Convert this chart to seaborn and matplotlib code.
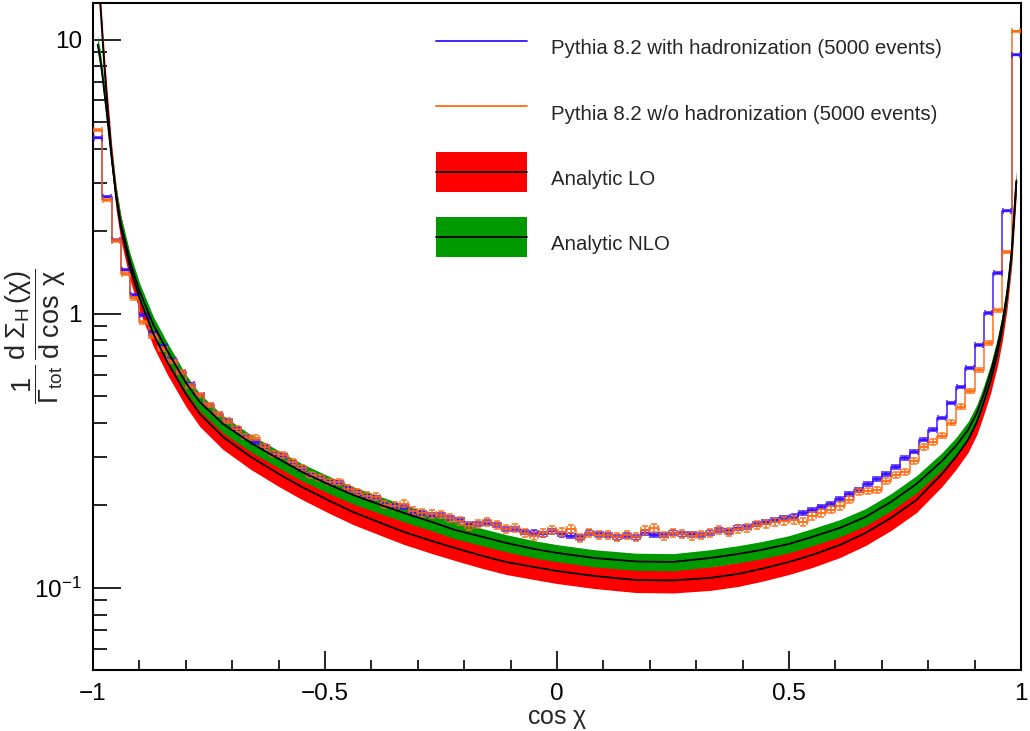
import numpy as np
import pandas as pd
import matplotlib
matplotlib.use("Agg")
import matplotlib.pyplot as plt
import seaborn as sns
from matplotlib.lines import Line2D
from matplotlib.patches import Patch, Rectangle
from matplotlib.legend_handler import HandlerTuple, HandlerPatch
from matplotlib.ticker import FixedLocator, FixedFormatter, MultipleLocator, FuncFormatter, NullFormatter

# ---------------- data ----------------
n_bins = 100
cos_min, cos_max = -1.0, 1.0

with_had = [4.39, 2.67, 1.86, 1.45, 1.17, 0.99, 0.85, 0.76, 0.68, 0.614,
            0.555, 0.506, 0.465, 0.431, 0.407, 0.380, 0.356, 0.341, 0.327, 0.308,
            0.303, 0.286, 0.272, 0.258, 0.252, 0.244, 0.242, 0.230, 0.222, 0.215,
            0.213, 0.201, 0.199, 0.198, 0.189, 0.188, 0.185, 0.185, 0.180, 0.177,
            0.171, 0.171, 0.173, 0.170, 0.164, 0.164, 0.160, 0.159, 0.157, 0.161,
            0.157, 0.155, 0.153, 0.159, 0.157, 0.156, 0.153, 0.155, 0.153, 0.159,
            0.156, 0.156, 0.159, 0.157, 0.157, 0.156, 0.159, 0.163, 0.161, 0.166,
            0.167, 0.171, 0.174, 0.177, 0.180, 0.182, 0.188, 0.193, 0.198, 0.203,
            0.211, 0.220, 0.228, 0.240, 0.250, 0.261, 0.276, 0.298, 0.314, 0.347,
            0.377, 0.417, 0.473, 0.541, 0.635, 0.770, 1.01, 1.41, 2.38, 8.82]

without_had = [4.69, 2.61, 1.85, 1.40, 1.14, 0.93, 0.83, 0.745, 0.67, 0.614,
               0.546, 0.506, 0.465, 0.431, 0.407, 0.380, 0.356, 0.353, 0.327, 0.308,
               0.306, 0.288, 0.274, 0.258, 0.252, 0.244, 0.244, 0.230, 0.224, 0.217,
               0.215, 0.201, 0.199, 0.203, 0.191, 0.188, 0.186, 0.185, 0.180, 0.176,
               0.168, 0.171, 0.174, 0.170, 0.164, 0.166, 0.159, 0.155, 0.159, 0.163,
               0.160, 0.164, 0.152, 0.159, 0.156, 0.156, 0.153, 0.156, 0.153, 0.163,
               0.166, 0.155, 0.159, 0.157, 0.155, 0.156, 0.159, 0.163, 0.160, 0.164,
               0.166, 0.170, 0.171, 0.174, 0.176, 0.177, 0.174, 0.183, 0.188, 0.193,
               0.199, 0.210, 0.224, 0.226, 0.228, 0.246, 0.258, 0.265, 0.291, 0.327,
               0.341, 0.359, 0.400, 0.458, 0.524, 0.625, 0.784, 1.03, 1.68, 10.74]

curve_cos = [-0.99, -0.985, -0.98, -0.975, -0.97, -0.96, -0.95, -0.94, -0.92, -0.90,
             -0.87, -0.84, -0.80, -0.77, -0.72, -0.66, -0.60, -0.55, -0.49, -0.44,
             -0.38, -0.33, -0.27, -0.22, -0.16, -0.11, -0.05, 0.0, 0.08, 0.17,
             0.25, 0.33, 0.39, 0.44, 0.50, 0.55, 0.61, 0.665, 0.72, 0.775,
             0.83, 0.86, 0.886, 0.905, 0.92, 0.935, 0.95, 0.96, 0.97, 0.98, 0.99]

lo_central = [20.0, 14.0, 10.43, 7.77, 6.04, 3.80, 2.65, 2.06, 1.472, 1.144,
              0.845, 0.668, 0.5105, 0.4315, 0.3557, 0.3007, 0.2607, 0.2337, 0.2077, 0.1894,
              0.1727, 0.1601, 0.1484, 0.1399, 0.1308, 0.1244, 0.1193, 0.1153, 0.1106, 0.1069,
              0.1065, 0.1088, 0.1125, 0.1173, 0.1244, 0.1319, 0.1435, 0.1587, 0.1801, 0.2095,
              0.2607, 0.3007, 0.3468, 0.4035, 0.4773, 0.5743, 0.7265, 0.8889, 1.154, 1.656, 3.03]

nlo_central = [9.59, 8.67, 7.45, 6.30, 5.33, 3.71, 2.70, 2.13, 1.548, 1.213,
               0.912, 0.733, 0.5602, 0.4773, 0.3968, 0.3381, 0.2956, 0.2651, 0.2377, 0.2185,
               0.2008, 0.1878, 0.1741, 0.1628, 0.1535, 0.1460, 0.1388, 0.1342, 0.1286, 0.1249,
               0.1244, 0.1286, 0.1330, 0.1376, 0.1447, 0.1535, 0.1656, 0.1816, 0.2060, 0.2397,
               0.2907, 0.3299, 0.3772, 0.4352, 0.5105, 0.6142, 0.7706, 0.935, 1.193, 1.684, 3.06]

lo_rel_unc = 0.10    # relative half-width of the LO band
nlo_rel_unc = 0.072  # relative half-width of the NLO band

labels = ["Pythia 8.2 with hadronization (5000 events)",
          "Pythia 8.2 w/o hadronization (5000 events)",
          "Analytic LO", "Analytic NLO"]

# ---------------- style ----------------
sns.set_style("ticks")
plt.rcParams["font.family"] = ["Liberation Sans", "DejaVu Sans"]
plt.rcParams["mathtext.fontset"] = "custom"
plt.rcParams["mathtext.rm"] = "Liberation Sans"
plt.rcParams["mathtext.it"] = "Liberation Sans"
plt.rcParams["mathtext.bf"] = "Liberation Sans:bold"
plt.rcParams["axes.unicode_minus"] = True

BLUE = "#3a10ff"
ORANGE = "#ff6a10"
RED = "#ff0000"
GREEN = "#009900"

fig = plt.figure(figsize=(10.30, 7.31), dpi=100)
ax = fig.add_axes([93 / 1030, 1 - 670 / 731, (1021 - 93) / 1030, (670 - 3) / 731])
ax.set_yscale("log")

edges = np.linspace(cos_min, cos_max, n_bins + 1)
centers = 0.5 * (edges[:-1] + edges[1:])
half_w = 0.5 * (edges[1] - edges[0])

hist_df = pd.DataFrame({
    "cos": np.concatenate([centers, centers]),
    "val": np.array(with_had + without_had),
    "sample": ["had"] * n_bins + ["nohad"] * n_bins,
})

curve_df = pd.DataFrame({
    "cos": curve_cos,
    "lo": lo_central,
    "nlo": nlo_central,
})

# analytic bands
ax.fill_between(curve_df["cos"], curve_df["lo"] * (1 - lo_rel_unc), curve_df["lo"] * (1 + lo_rel_unc),
                color=RED, lw=0, zorder=2)
ax.fill_between(curve_df["cos"], curve_df["nlo"] * (1 - nlo_rel_unc), curve_df["nlo"] * (1 + nlo_rel_unc),
                color=GREEN, lw=0, zorder=3)

# histograms (step) via seaborn
for key, col in [("had", BLUE), ("nohad", ORANGE)]:
    sub = hist_df[hist_df["sample"] == key]
    sns.histplot(data=sub, x="cos", weights="val", bins=n_bins, binrange=(cos_min, cos_max),
                 element="step", fill=False, color=col, linewidth=1.4, alpha=0.75, ax=ax, zorder=4)
    vals = sub["val"].to_numpy()
    scale = 0.6e-4 if key == "had" else 1.8e-4
    err = np.sqrt(vals * scale)
    ax.errorbar(sub["cos"], vals, yerr=err, xerr=half_w * 0.85, fmt="none", ecolor=col,
                elinewidth=1.7 if key == "had" else 1.2, capsize=2.4, capthick=1.2,
                alpha=0.85, zorder=5)

# central lines
sns.lineplot(data=curve_df, x="cos", y="lo", color="black", linewidth=1.3, sort=False,
             estimator=None, ax=ax, zorder=6)
sns.lineplot(data=curve_df, x="cos", y="nlo", color="black", linewidth=1.3, sort=False,
             estimator=None, ax=ax, zorder=6)

# axes
ax.set_xlim(cos_min, cos_max)
ax.set_ylim(0.0502, 13.6)
ax.xaxis.set_major_locator(MultipleLocator(0.5))
ax.xaxis.set_minor_locator(MultipleLocator(0.1))
ax.xaxis.set_major_formatter(FuncFormatter(lambda v, p: f"{v:g}".replace("-", "\u2212")))
ax.yaxis.set_major_locator(FixedLocator([0.1, 1, 10]))
ax.yaxis.set_major_formatter(FixedFormatter([r"$10^{-1}$", "1", "10"]))
ax.yaxis.set_minor_locator(FixedLocator(
    [0.06, 0.07, 0.08, 0.09, 0.2, 0.3, 0.4, 0.5, 0.6, 0.7, 0.8, 0.9,
     2, 3, 4, 5, 6, 7, 8, 9]))
ax.yaxis.set_minor_formatter(NullFormatter())

ax.tick_params(axis="both", which="both", direction="in", top=False, right=False,
               width=1.2, labelsize=17.5, colors="black")
ax.tick_params(axis="x", which="major", length=14, pad=9)
ax.tick_params(axis="x", which="minor", length=7)
ax.tick_params(axis="y", which="major", length=20, pad=8)
ax.tick_params(axis="y", which="minor", length=10)
for s in ax.spines.values():
    s.set_linewidth(1.5)
    s.set_color("black")

ax.set_xlabel(r"cos $\chi$", fontsize=18, labelpad=2)
ax.set_ylabel("")
fig.text(36 / 1030, 1 - 336 / 731,
         r"$\dfrac{1}{\Gamma_{\mathrm{tot}}}\,\dfrac{\mathrm{d}\;\Sigma_{\mathrm{H}}\,(\chi)}{\mathrm{d}\;\cos\;\chi}$",
         rotation=90, ha="center", va="center", fontsize=19.5)


# legend: band boxes centred on the black line
def centred_box(legend, orig_handle, xdescent, ydescent, width, height, fontsize):
    cy = (height - ydescent) / 2
    return Rectangle((-xdescent, cy - height / 2), width, height)


handles = [
    Line2D([], [], color=BLUE, lw=1.3),
    Line2D([], [], color=ORANGE, lw=1.3),
    (Patch(facecolor=RED, edgecolor="none"), Line2D([], [], color="black", lw=1.3)),
    (Patch(facecolor=GREEN, edgecolor="none"), Line2D([], [], color="black", lw=1.3)),
]
fig.legend(handles, labels, loc="upper left", bbox_to_anchor=(436 / 1030, 1 - 28 / 731),
           frameon=False, fontsize=14.7, handlelength=4.46, handleheight=2.65,
           labelspacing=1.23, handletextpad=1.18, borderpad=0, borderaxespad=0,
           handler_map={tuple: HandlerTuple(ndivide=1, pad=0),
                        Patch: HandlerPatch(patch_func=centred_box)})

fig.savefig("out.png", dpi=100)
